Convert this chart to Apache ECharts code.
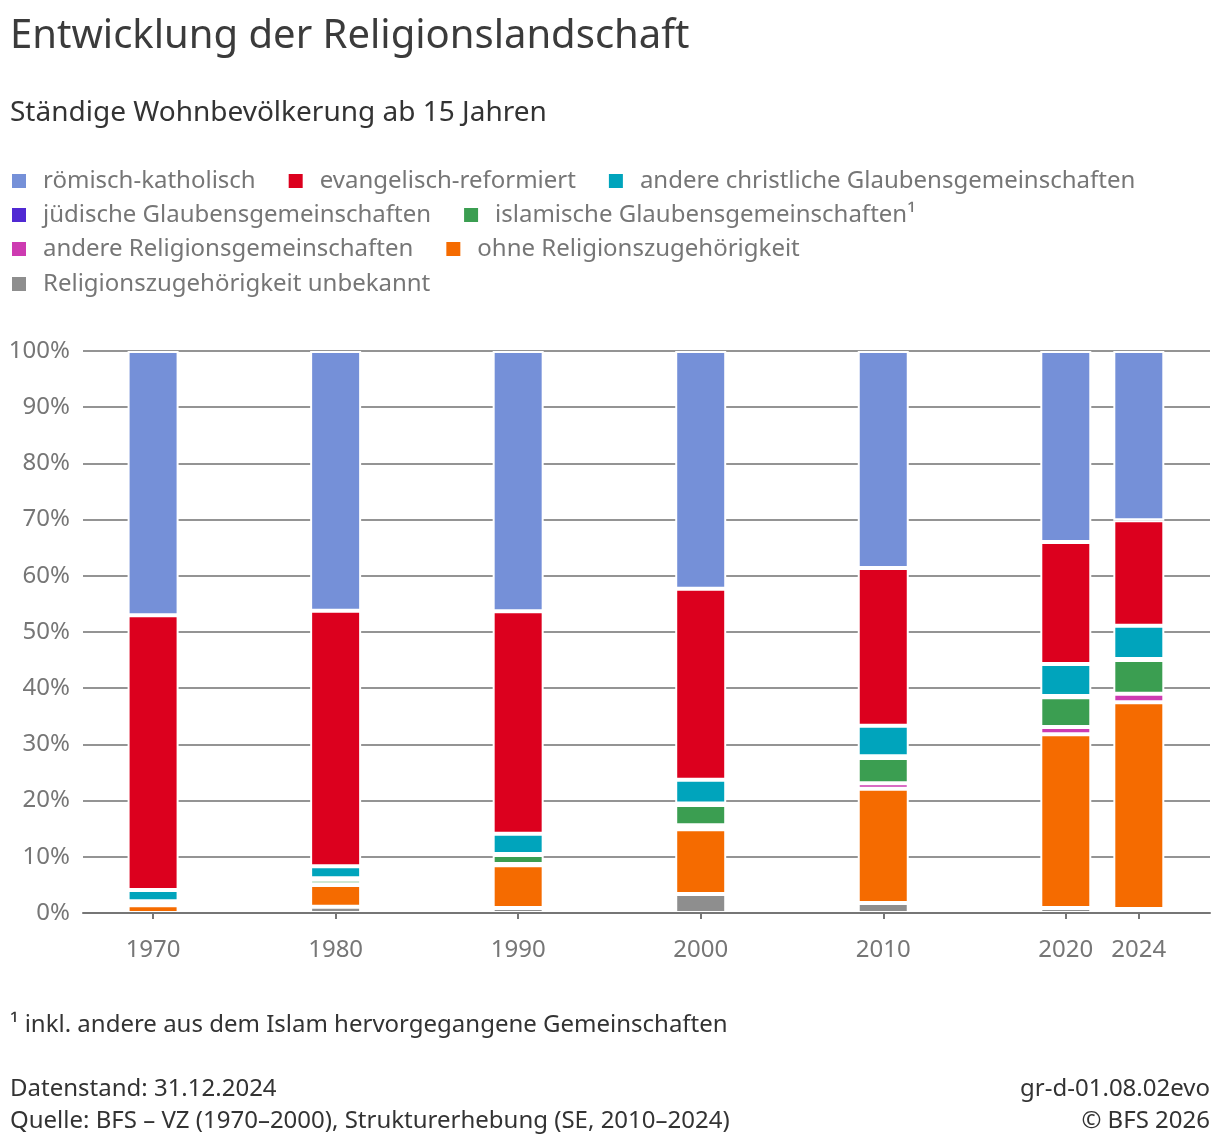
<!DOCTYPE html>
<html>
<head>
<meta charset="utf-8">
<script src="https://cdn.jsdelivr.net/npm/echarts@6/dist/echarts.min.js"></script>
<style>
html,body{margin:0;padding:0;background:#fff;}
#chart{width:1220px;height:1148px;}
</style>
</head>
<body>
<div id="chart"></div>
<script>
var years = [1970, 1980, 1990, 2000, 2010, 2020, 2024];
var tickYears = [1970, 1980, 1990, 2000, 2010, 2020, 2024];
var yTicks = [0, 10, 20, 30, 40, 50, 60, 70, 80, 90, 100];

var roemischKatholisch   = [47.0, 46.2, 46.3, 42.3, 38.6, 34.0, 30.1];
var evangelischRef       = [48.9, 45.5, 39.6, 34.0, 28.1, 21.7, 18.8];
var andereChristlich     = [2.0, 2.1, 3.6, 4.2, 5.4, 5.7, 5.9];
var juedisch             = [0.3, 0.3, 0.2, 0.3, 0.3, 0.2, 0.2];
var islamisch            = [0.3, 0.8, 1.6, 3.6, 4.5, 5.3, 6.0];
var andereReligion       = [0.1, 0.1, 0.2, 0.7, 1.0, 1.3, 1.5];
var ohneReligion         = [1.4, 3.9, 7.6, 11.5, 20.3, 30.9, 36.8];
var unbekannt            = [0.0, 1.1, 0.9, 3.4, 1.8, 0.9, 0.7];

var names = {
  kath: 'römisch-katholisch',
  ref: 'evangelisch-reformiert',
  chr: 'andere christliche Glaubensgemeinschaften',
  jud: 'jüdische Glaubensgemeinschaften',
  isl: 'islamische Glaubensgemeinschaften¹',
  and: 'andere Religionsgemeinschaften',
  ohne: 'ohne Religionszugehörigkeit',
  unb: 'Religionszugehörigkeit unbekannt'
};

var colors = {
  kath: '#7590d8', ref: '#dc001e', chr: '#00a4bc', jud: '#5029d3',
  isl: '#3b9e51', and: '#cd3bb1', ohne: '#f56b00', unb: '#8e8e8e'
};

// stacking order bottom -> top
var stackOrder = [
  ['unb', unbekannt], ['ohne', ohneReligion], ['and', andereReligion],
  ['isl', islamisch], ['jud', juedisch], ['chr', andereChristlich],
  ['ref', evangelischRef], ['kath', roemischKatholisch]
];

var FONT = '"Noto Sans", sans-serif';

var series = stackOrder.map(function (s) {
  return {
    name: names[s[0]],
    type: 'bar',
    stack: 'total',
    barWidth: 51,
    z: 2,
    encode: { x: 1, y: 0 },
    itemStyle: { color: colors[s[0]], borderColor: '#ffffff', borderWidth: 2 },
    // [share, year] so that the share column is the stacked one
    data: years.map(function (y, i) { return [s[1][i], y]; })
  };
});

function legend(top, keys) {
  return {
    left: 10, top: top, padding: 0,
    icon: 'rect', itemWidth: 16, itemHeight: 16, itemGap: 31,
    selectedMode: false,
    textStyle: { fontFamily: FONT, fontSize: 24, color: '#767676', padding: [0, 0, 0, 11] },
    data: keys.map(function (k) { return names[k]; })
  };
}

function txt(x, y, text, size, color, align) {
  return {
    type: 'text', x: x, y: y,
    style: { text: text, fontFamily: FONT, fontSize: size, fill: color,
             align: align || 'left', verticalAlign: 'middle' }
  };
}

var chart = echarts.init(document.getElementById('chart'), null, { renderer: 'canvas' });
chart.setOption({
  animation: false,
  backgroundColor: '#ffffff',
  color: stackOrder.map(function (s) { return colors[s[0]]; }),
  grid: { left: 83, right: 10, top: 351, bottom: 235, containLabel: false },
  legend: [
    legend(169, ['kath', 'ref', 'chr']),
    legend(203, ['jud', 'isl']),
    legend(237, ['and', 'ohne']),
    legend(272, ['unb'])
  ],
  xAxis: {
    type: 'value', min: 1966.16, max: 2027.9, z: 5, offset: 1,
    splitLine: { show: false },
    axisLine: { show: true, lineStyle: { color: '#767676', width: 2 } },
    axisTick: { show: true, customValues: tickYears, length: 6, lineStyle: { color: '#767676', width: 2 } },
    axisLabel: {
      customValues: tickYears, margin: 24, fontFamily: FONT, fontSize: 24, color: '#767676',
      formatter: function (v) { return String(v); }
    }
  },
  yAxis: {
    type: 'value', min: 0, max: 100, interval: 10,
    axisLine: { show: false }, axisTick: { show: false },
    axisLabel: { formatter: '{value}%', margin: 13, fontFamily: FONT, fontSize: 24, color: '#767676' },
    splitLine: { show: true, lineStyle: { color: '#707070', width: 1.6 } }
  },
  graphic: [
    txt(10, 37, 'Entwicklung der Religionslandschaft', 40, '#3b3b3b'),
    txt(10, 113, 'Ständige Wohnbevölkerung ab 15 Jahren', 28, '#333333'),
    txt(10, 1025, '¹ inkl. andere aus dem Islam hervorgegangene Gemeinschaften', 24, '#333333'),
    txt(10, 1089, 'Datenstand: 31.12.2024', 24, '#333333'),
    txt(10, 1121, 'Quelle: BFS – VZ (1970–2000), Strukturerhebung (SE, 2010–2024)', 24, '#333333'),
    txt(1210, 1089, 'gr-d-01.08.02evo', 24, '#333333', 'right'),
    txt(1210, 1121, '© BFS 2026', 24, '#333333', 'right')
  ],
  series: series
});
</script>
</body>
</html>
